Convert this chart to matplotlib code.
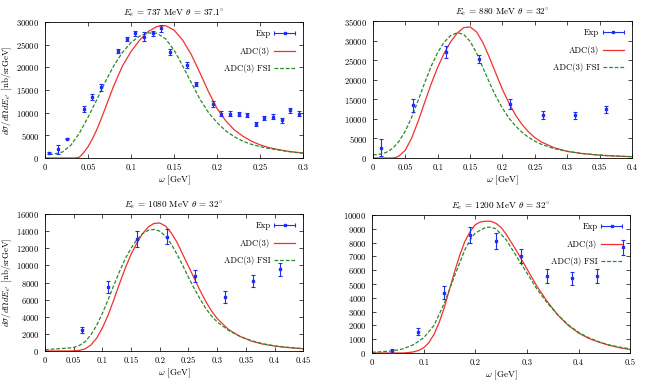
import numpy as np
import matplotlib
matplotlib.use("Agg")
import matplotlib.pyplot as plt
from matplotlib.container import ErrorbarContainer
from matplotlib.legend_handler import HandlerErrorbar

plt.rcParams.update({
    "font.family": "serif",
    "font.serif": ["cmr10"],
    "mathtext.fontset": "cm",
    "axes.formatter.use_mathtext": True,
    "font.size": 6.2,
    "axes.linewidth": 0.6,
    "xtick.major.width": 0.5,
    "ytick.major.width": 0.5,
    "xtick.major.size": 3,
    "ytick.major.size": 3,
})

BLUE = '#1f2ff0'
RED = '#f23030'
GREEN = '#2a8a2a'

# ---- panel 1: E = 737 MeV, theta = 37.1
exp1_x = [0.005, 0.015, 0.025, 0.045, 0.055, 0.065, 0.085, 0.095, 0.105, 0.115, 0.125,
          0.135, 0.145, 0.165, 0.175, 0.195, 0.205, 0.215, 0.225, 0.235, 0.245, 0.255,
          0.265, 0.275, 0.285, 0.295]
exp1_y = [1100, 1900, 4300, 10800, 13500, 15600, 23600, 26200, 27500, 26700, 27500,
          28600, 23400, 20500, 16300, 11900, 9800, 9800, 9700, 9500, 7500, 8800,
          9100, 8300, 10500, 9800]
exp1_err = [200, 1000, 200, 600, 700, 800, 400, 500, 500, 1000, 600,
            700, 700, 600, 400, 600, 600, 500, 500, 500, 500, 500,
            500, 500, 600, 500]
adc1_x = [0, 0.035, 0.04, 0.045, 0.05, 0.055, 0.06, 0.065, 0.07, 0.075, 0.08, 0.09, 0.1,
          0.11, 0.12, 0.13, 0.14, 0.15, 0.16, 0.17, 0.18, 0.19, 0.2, 0.21, 0.22, 0.23,
          0.24, 0.25, 0.26, 0.27, 0.28, 0.29, 0.3]
adc1_y = [0, 0, 200, 1200, 2500, 4200, 6200, 8500, 11000, 13500, 16000, 20300, 23500,
          26000, 27900, 29000, 29200, 28200, 26000, 22800, 18800, 14600, 10900, 8200,
          6200, 4800, 3700, 2900, 2300, 1900, 1550, 1300, 1100]
fsi1_x = [0.005, 0.01, 0.02, 0.03, 0.04, 0.05, 0.06, 0.07, 0.08, 0.09, 0.1, 0.11, 0.12,
          0.13, 0.14, 0.15, 0.16, 0.17, 0.18, 0.19, 0.2, 0.21, 0.22, 0.23, 0.24, 0.25,
          0.26, 0.27, 0.28, 0.29, 0.3]
fsi1_y = [800, 850, 1300, 2800, 5500, 9000, 12800, 16800, 20400, 23300, 25500, 26900,
          27600, 27500, 26300, 23800, 20300, 16600, 13000, 10000, 7800, 6000, 4700, 3700,
          3000, 2500, 2100, 1800, 1500, 1250, 1050]

# ---- panel 2: E = 880 MeV, theta = 32
exp2_x = [0.013, 0.062, 0.112, 0.163, 0.212, 0.262, 0.312, 0.360]
exp2_y = [2600, 13500, 27000, 25300, 13800, 11000, 10900, 12400]
exp2_err = [2200, 1700, 1500, 1100, 1200, 1000, 900, 1000]
adc2_x = [0, 0.03, 0.035, 0.04, 0.05, 0.06, 0.07, 0.08, 0.09, 0.1, 0.11, 0.12, 0.13, 0.14,
          0.15, 0.16, 0.17, 0.18, 0.19, 0.2, 0.21, 0.22, 0.23, 0.24, 0.25, 0.26, 0.28, 0.3,
          0.32, 0.34, 0.36, 0.38, 0.4]
adc2_y = [0, 0, 100, 500, 2000, 5200, 9500, 14300, 19000, 23200, 26800, 29700, 31900,
          33300, 33500, 32200, 29400, 25600, 21500, 17500, 14000, 11000, 8600, 6700, 5200,
          4100, 2600, 1700, 1200, 850, 600, 450, 330]
fsi2_x = [0, 0.01, 0.02, 0.03, 0.04, 0.05, 0.06, 0.07, 0.08, 0.09, 0.1, 0.11, 0.12, 0.13,
          0.14, 0.15, 0.16, 0.17, 0.18, 0.19, 0.2, 0.21, 0.22, 0.23, 0.24, 0.25, 0.26, 0.28,
          0.3, 0.32, 0.34, 0.36, 0.38, 0.4]
fsi2_y = [800, 950, 1400, 2400, 4200, 6900, 10500, 14800, 19300, 23500, 27000, 29600,
          31300, 32000, 31600, 29800, 26800, 23000, 19200, 15700, 12700, 10200, 8200, 6600,
          5300, 4300, 3500, 2400, 1700, 1200, 900, 650, 480, 350]

# ---- panel 3: E = 1080 MeV, theta = 32
exp3_x = [0.065, 0.110, 0.161, 0.213, 0.262, 0.313, 0.362, 0.409]
exp3_y = [2450, 7470, 13100, 13350, 8800, 6350, 8130, 9530]
exp3_err = [400, 650, 900, 900, 700, 700, 700, 750]
adc3_x = [0, 0.04, 0.05, 0.06, 0.07, 0.08, 0.09, 0.1, 0.11, 0.12, 0.13, 0.14, 0.15, 0.16,
          0.17, 0.18, 0.19, 0.2, 0.21, 0.22, 0.23, 0.24, 0.25, 0.26, 0.27, 0.28, 0.29, 0.3,
          0.32, 0.34, 0.36, 0.38, 0.4, 0.42, 0.45]
adc3_y = [0, 0, 20, 80, 250, 700, 1500, 2700, 4200, 6000, 7900, 9700, 11300, 12600, 13700,
          14500, 14900, 14950, 14600, 13800, 12700, 11300, 9900, 8500, 7100, 5800, 4700,
          3800, 2500, 1700, 1150, 800, 580, 420, 260]
fsi3_x = [0, 0.02, 0.04, 0.05, 0.06, 0.07, 0.08, 0.09, 0.1, 0.11, 0.12, 0.13, 0.14, 0.15,
          0.16, 0.17, 0.18, 0.19, 0.2, 0.21, 0.22, 0.23, 0.24, 0.25, 0.26, 0.27, 0.28, 0.29,
          0.3, 0.32, 0.34, 0.36, 0.38, 0.4, 0.42, 0.45]
fsi3_y = [150, 250, 330, 420, 650, 1100, 1900, 3000, 4400, 6000, 7700, 9300, 10800, 12000,
          13000, 13700, 14100, 14200, 14000, 13400, 12500, 11300, 10000, 8600, 7300, 6100,
          5000, 4100, 3400, 2400, 1700, 1200, 850, 600, 450, 280]

# ---- panel 4: E = 1200 MeV, theta = 32
exp4_x = [0.039, 0.089, 0.139, 0.190, 0.240, 0.288, 0.338, 0.388, 0.435, 0.487]
exp4_y = [170, 1550, 4380, 8550, 8130, 7020, 5590, 5400, 5590, 7650]
exp4_err = [150, 250, 450, 550, 600, 500, 500, 500, 500, 550]
adc4_x = [0, 0.06, 0.07, 0.08, 0.09, 0.1, 0.11, 0.12, 0.13, 0.14, 0.15, 0.16, 0.17, 0.18,
          0.19, 0.2, 0.21, 0.22, 0.23, 0.24, 0.25, 0.26, 0.27, 0.28, 0.29, 0.3, 0.32, 0.34,
          0.36, 0.38, 0.4, 0.42, 0.44, 0.46, 0.48, 0.5]
adc4_y = [0, 0, 30, 80, 180, 380, 750, 1350, 2200, 3300, 4600, 5900, 7100, 8100, 8800,
          9300, 9500, 9550, 9550, 9400, 9100, 8600, 8000, 7400, 6750, 6100, 4800, 3700,
          2750, 2000, 1450, 1050, 780, 550, 380, 250]
fsi4_x = [0, 0.04, 0.06, 0.08, 0.1, 0.12, 0.14, 0.16, 0.18, 0.19, 0.2, 0.22, 0.23, 0.24,
          0.26, 0.28, 0.3, 0.32, 0.34, 0.36, 0.38, 0.4, 0.42, 0.44, 0.46, 0.48, 0.5]
fsi4_y = [50, 150, 300, 600, 1100, 2000, 3600, 5600, 7500, 8200, 8700, 9100, 9120, 9000,
          8200, 7000, 5800, 4600, 3600, 2750, 2050, 1500, 1100, 800, 580, 420, 300]

titles = [r'$E_e$ = 737 MeV $\theta$ = 37.1$^{\circ}$',
          r'$E_e$ = 880 MeV $\theta$ = 32$^{\circ}$',
          r'$E_e$ = 1080 MeV $\theta$ = 32$^{\circ}$',
          r'$E_e$ = 1200 MeV $\theta$ = 32$^{\circ}$']
xmaxes = [0.3, 0.4, 0.45, 0.5]
xsteps = [0.05, 0.05, 0.05, 0.1]
ymaxes = [30000, 35000, 16000, 10000]
ysteps = [5000, 5000, 2000, 1000]

rects = [[0.0696, 0.5896, 0.399, 0.3533],
         [0.5765, 0.5896, 0.4003, 0.3558],
         [0.0696, 0.0883, 0.399, 0.3558],
         [0.575, 0.0831, 0.399, 0.3584]]

panels = [
    (exp1_x, exp1_y, exp1_err, adc1_x, adc1_y, fsi1_x, fsi1_y),
    (exp2_x, exp2_y, exp2_err, adc2_x, adc2_y, fsi2_x, fsi2_y),
    (exp3_x, exp3_y, exp3_err, adc3_x, adc3_y, fsi3_x, fsi3_y),
    (exp4_x, exp4_y, exp4_err, adc4_x, adc4_y, fsi4_x, fsi4_y),
]

fig = plt.figure(figsize=(6.47, 3.85), dpi=100)

for i, (ex, ey, ee, ax_, ay_, fx, fy) in enumerate(panels):
    ax = fig.add_axes(rects[i])
    ax.errorbar(ex, ey, yerr=ee, fmt='s', color=BLUE, ms=1.6, elinewidth=0.8,
                capsize=1.6, capthick=0.8, zorder=3)
    # legend proxy for gnuplot-style horizontal error bar sample
    h_exp = ax.errorbar([np.nan], [np.nan], xerr=[1], fmt='s', color=BLUE, ms=1.6,
                        elinewidth=0.8, capsize=1.6, capthick=0.8)
    h_adc, = ax.plot(ax_, ay_, color=RED, lw=0.9)
    h_fsi, = ax.plot(fx, fy, color=GREEN, lw=0.9, ls=(0, (3, 1.5)))

    ax.set_xlim(0, xmaxes[i])
    ax.set_ylim(0, ymaxes[i])
    ax.set_xticks(np.arange(0, xmaxes[i] + 1e-9, xsteps[i]))
    ax.set_yticks(np.arange(0, ymaxes[i] + 1, ysteps[i]))
    ax.xaxis.set_major_formatter(plt.FuncFormatter(lambda v, p: ('%g' % round(v, 3))))
    ax.tick_params(direction='in', top=True, right=True, labelsize=6.2, pad=4)
    ax.set_title(titles[i], fontsize=6.6, pad=4.5)
    ax.set_xlabel(r'$\omega$ [GeV]', fontsize=6.6, labelpad=1)
    if i in (0, 2):
        ax.set_ylabel(r"$d\sigma/d\Omega dE_{e^{\prime}}$ [nb/srGeV]", fontsize=6.4,
                      labelpad=2)
    ax.legend([h_exp, h_adc, h_fsi], ['Exp', 'ADC(3)', 'ADC(3) FSI'],
              loc='upper right', frameon=False, markerfirst=False, fontsize=6.2,
              handlelength=2.5, labelspacing=1.0, borderaxespad=0.5, handletextpad=0.4,
              handler_map={ErrorbarContainer: HandlerErrorbar(xerr_size=1.2)})

fig.savefig('out.png', dpi=100)
